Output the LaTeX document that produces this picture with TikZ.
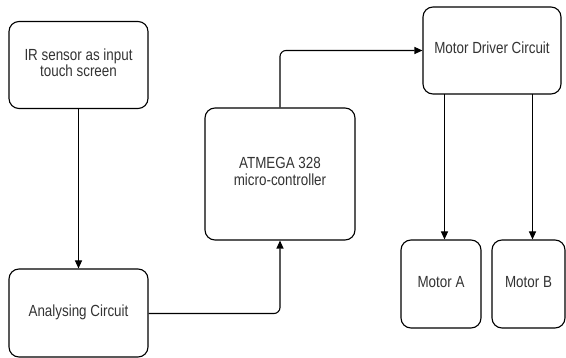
\documentclass[tikz,border=0pt]{standalone}
\usepackage{fontspec}
\setmainfont{Liberation Sans}
\usetikzlibrary{arrows.meta}
\newcommand{\boxtxt}[1]{\scalebox{1}[1.2]{\begin{tabular}{@{}c@{}}#1\end{tabular}}}
\begin{document}
\begin{tikzpicture}[x=1pt,y=-1pt,
  blk/.style={draw=black,line width=1.1pt,rounded corners=10pt,inner sep=0pt,text=black!80},
  conn/.style={line width=1.1pt,rounded corners=6pt,-{Triangle[length=8pt,width=7pt]}},
  every node/.style={font=\fontsize{13.4}{13.5}\selectfont}]
\useasboundingbox (0,0) rectangle (566,358);
\node[blk,minimum width=139pt,minimum height=87pt] (ir) at (78.5,65) {\boxtxt{IR sensor as input\\touch screen}};
\node[blk,minimum width=139pt,minimum height=88pt] (an) at (78.5,313) {\boxtxt{Analysing Circuit}};
\node[blk,minimum width=150pt,minimum height=132pt] (mc) at (280,174) {\boxtxt{ATMEGA 328\\micro-controller}};
\node[blk,minimum width=138pt,minimum height=87pt] (md) at (492,50.5) {\boxtxt{Motor Driver Circuit}};
\node[blk,minimum width=80pt,minimum height=88pt] (ma) at (441,284) {\boxtxt{Motor A}};
\node[blk,minimum width=73pt,minimum height=88pt] (mb) at (528.5,284) {\boxtxt{Motor B}};
\draw[conn] (ir.south) -- (an.north);
\draw[conn] (an.east |- 0,313.5) -| (mc.south);
\draw[conn] (mc.north) |- (md.west);
\draw[conn] (444.5,94) coordinate (mas) -- (mas |- ma.north);
\draw[conn] (532.5,94) coordinate (mbs) -- (mbs |- mb.north);
\end{tikzpicture}
\end{document}
